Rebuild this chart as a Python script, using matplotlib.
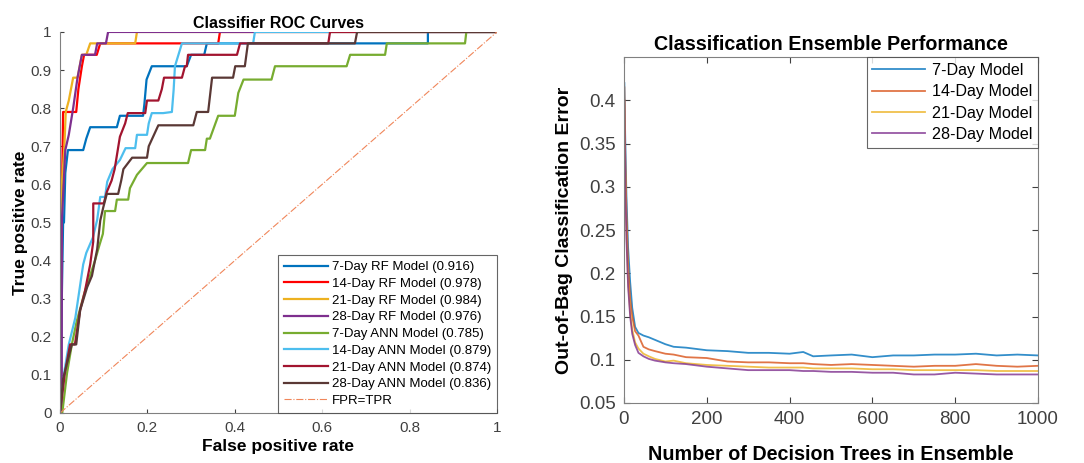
import matplotlib

matplotlib.use("Agg")
import matplotlib.pyplot as plt

plt.rcParams["font.family"] = ["Liberation Sans", "DejaVu Sans"]

# ---- left panel: ROC curves (fpr, tpr vertices) ----
roc_labels = [
    "7-Day RF Model (0.916)",
    "14-Day RF Model (0.978)",
    "21-Day RF Model (0.984)",
    "28-Day RF Model (0.976)",
    "7-Day ANN Model (0.785)",
    "14-Day ANN Model (0.879)",
    "21-Day ANN Model (0.874)",
    "28-Day ANN Model (0.836)",
]
roc_colors = ["#0072BD", "#FF0000", "#EDB120", "#7E2F8E",
              "#77AC30", "#4DBEEE", "#A2142F", "#5A3835"]

fpr_rf7 = [0, 0.004, 0.007, 0.009, 0.012, 0.018, 0.053, 0.06, 0.069, 0.13, 0.137,
           0.19, 0.193, 0.198, 0.21, 0.29, 0.30, 0.33, 0.336, 0.842, 0.842, 1]
tpr_rf7 = [0, 0.30, 0.50, 0.50, 0.63, 0.69, 0.69, 0.72, 0.75, 0.75, 0.78,
           0.78, 0.81, 0.875, 0.91, 0.91, 0.94, 0.94, 0.97, 0.97, 1, 1]
fpr_rf14 = [0, 0.003, 0.007, 0.037, 0.042, 0.046, 0.05, 0.055, 0.084, 0.092,
            0.362, 0.366, 1]
tpr_rf14 = [0, 0.45, 0.79, 0.79, 0.85, 0.88, 0.91, 0.94, 0.94, 0.97, 0.97, 1, 1]
fpr_rf21 = [0, 0.004, 0.01, 0.013, 0.02, 0.025, 0.03, 0.04, 0.045, 0.05, 0.06,
            0.069, 0.172, 0.176, 1]
tpr_rf21 = [0, 0.60, 0.70, 0.79, 0.82, 0.85, 0.88, 0.88, 0.91, 0.94, 0.94,
            0.97, 0.97, 1, 1]
fpr_rf28 = [0, 0.004, 0.004, 0.012, 0.02, 0.03, 0.04, 0.05, 0.08, 0.085, 0.105,
            0.11, 1]
tpr_rf28 = [0, 0.0, 0.50, 0.69, 0.73, 0.80, 0.88, 0.94, 0.94, 0.97, 0.97, 1, 1]
fpr_ann7 = [0, 0.005, 0.016, 0.027, 0.038, 0.057, 0.08, 0.09, 0.098, 0.103, 0.126,
            0.13, 0.156, 0.16, 0.176, 0.199, 0.293, 0.30, 0.332, 0.336, 0.343,
            0.362, 0.40, 0.408, 0.42, 0.484, 0.492, 0.656, 0.664, 0.744, 0.748,
            0.927, 0.93, 1]
tpr_ann7 = [0, 0.0, 0.105, 0.18, 0.24, 0.32, 0.40, 0.44, 0.47, 0.53, 0.53,
            0.56, 0.56, 0.59, 0.625, 0.656, 0.656, 0.69, 0.69, 0.72, 0.72,
            0.78, 0.78, 0.84, 0.875, 0.875, 0.91, 0.91, 0.94, 0.94, 0.97,
            0.97, 1, 1]
fpr_ann14 = [0, 0.01, 0.02, 0.035, 0.053, 0.06, 0.075, 0.085, 0.092, 0.103,
             0.108, 0.12, 0.137, 0.15, 0.172, 0.176, 0.199, 0.203, 0.21, 0.236,
             0.256, 0.26, 0.263, 0.279, 0.442, 0.446, 1]
tpr_ann14 = [0, 0.11, 0.18, 0.25, 0.39, 0.42, 0.46, 0.507, 0.567, 0.567,
             0.607, 0.64, 0.664, 0.695, 0.695, 0.73, 0.73, 0.76, 0.787, 0.787,
             0.79, 0.848, 0.91, 0.97, 0.97, 1, 1]
fpr_ann21 = [0, 0.011, 0.023, 0.034, 0.046, 0.057, 0.069, 0.076, 0.076, 0.1,
             0.107, 0.118, 0.125, 0.137, 0.149, 0.155, 0.195, 0.199, 0.225,
             0.233, 0.238, 0.279, 0.286, 0.29, 0.293, 0.405, 0.412, 0.614,
             0.618, 1]
tpr_ann21 = [0, 0.105, 0.18, 0.18, 0.27, 0.32, 0.39, 0.45, 0.55, 0.55,
             0.58, 0.61, 0.64, 0.725, 0.76, 0.787, 0.787, 0.82, 0.82,
             0.85, 0.88, 0.88, 0.91, 0.91, 0.94, 0.94, 0.97, 0.97,
             1, 1]
fpr_ann28 = [0, 0.007, 0.027, 0.037, 0.046, 0.062, 0.073, 0.085, 0.092, 0.099,
             0.107, 0.133, 0.14, 0.145, 0.165, 0.199, 0.203, 0.215, 0.225,
             0.305, 0.313, 0.339, 0.348, 0.396, 0.401, 0.423, 0.43, 0.675,
             0.68, 1]
tpr_ann28 = [0, 0.09, 0.18, 0.18, 0.27, 0.33, 0.36, 0.43, 0.505, 0.54,
             0.575, 0.575, 0.61, 0.64, 0.67, 0.67, 0.70, 0.73, 0.755,
             0.755, 0.79, 0.79, 0.88, 0.88, 0.91, 0.91, 0.97, 0.97,
             1, 1]

roc_fpr = [fpr_rf7, fpr_rf14, fpr_rf21, fpr_rf28, fpr_ann7, fpr_ann14, fpr_ann21, fpr_ann28]
roc_tpr = [tpr_rf7, tpr_rf14, tpr_rf21, tpr_rf28, tpr_ann7, tpr_ann14, tpr_ann21, tpr_ann28]

# ---- right panel: out-of-bag error vs number of trees ----
oob_labels = ["7-Day Model", "14-Day Model", "21-Day Model", "28-Day Model"]
oob_colors = ["#0072BD", "#D95319", "#EDB120", "#7E2F8E"]
n_trees = [1, 3, 6, 10, 15, 20, 27, 35, 47, 60, 75, 100, 120, 150, 200, 250, 300,
           350, 400, 433, 457, 500, 550, 600, 650, 700, 750, 800, 850, 900, 950, 1000]
oob_7 = [0.42, 0.36, 0.29, 0.23, 0.19, 0.16, 0.138, 0.131, 0.128, 0.126, 0.123,
         0.118, 0.115, 0.114, 0.111, 0.110, 0.108, 0.108, 0.107, 0.109, 0.104,
         0.105, 0.106, 0.103, 0.105, 0.105, 0.106, 0.106, 0.107, 0.105, 0.106, 0.105]
oob_14 = [0.415, 0.34, 0.27, 0.21, 0.17, 0.15, 0.133, 0.128, 0.115, 0.112, 0.110,
          0.107, 0.106, 0.103, 0.102, 0.098, 0.097, 0.097, 0.096, 0.096, 0.095,
          0.094, 0.095, 0.094, 0.093, 0.092, 0.093, 0.093, 0.095, 0.093, 0.092, 0.093]
oob_21 = [0.40, 0.32, 0.25, 0.19, 0.155, 0.135, 0.12, 0.113, 0.107, 0.104, 0.101,
          0.098, 0.099, 0.096, 0.094, 0.093, 0.092, 0.091, 0.091, 0.091, 0.090,
          0.090, 0.090, 0.089, 0.089, 0.088, 0.088, 0.088, 0.088, 0.087, 0.087, 0.087]
oob_28 = [0.40, 0.31, 0.24, 0.185, 0.15, 0.13, 0.117, 0.108, 0.104, 0.101, 0.099,
          0.097, 0.096, 0.095, 0.092, 0.090, 0.088, 0.088, 0.088, 0.087, 0.087,
          0.086, 0.086, 0.085, 0.085, 0.083, 0.083, 0.085, 0.084, 0.083, 0.083, 0.083]
oob_series = [oob_7, oob_14, oob_21, oob_28]

fig = plt.figure(figsize=(10.84, 4.63), dpi=100)

# left panel
ax1 = fig.add_axes([0.0554, 0.108, 0.403, 0.823])
for fpr, tpr, color, label in zip(roc_fpr, roc_tpr, roc_colors, roc_labels):
    ax1.plot(fpr, tpr, color=color, lw=1.6, label=label)
ax1.plot([0, 1], [0, 1], color="#F0865A", lw=0.8, ls="-.", label="FPR=TPR")
ax1.set_xlim(0, 1)
ax1.set_ylim(0, 1)
ax1.set_xticks([0, 0.2, 0.4, 0.6, 0.8, 1])
ax1.set_xticklabels(["0", "0.2", "0.4", "0.6", "0.8", "1"])
ax1.set_yticks([i / 10 for i in range(11)])
ax1.set_yticklabels(["0"] + [f"0.{i}" for i in range(1, 10)] + ["1"])
ax1.spines["top"].set_visible(False)
ax1.spines["right"].set_visible(False)
for s in ("left", "bottom"):
    ax1.spines[s].set_color("#808080")
ax1.tick_params(direction="in", length=3, labelsize=11, colors="#404040", pad=6)
ax1.set_title("Classifier ROC Curves", fontsize=11.5, fontweight="bold", pad=3)
ax1.set_xlabel("False positive rate", fontsize=12.5, fontweight="bold", labelpad=3)
ax1.set_ylabel("True positive rate", fontsize=12.5, fontweight="bold", labelpad=2)
leg1 = ax1.legend(loc="lower right", fontsize=9.5, handlelength=3.4, borderaxespad=0,
                  frameon=True, fancybox=False, labelspacing=0.34, handletextpad=0.25,
                  borderpad=0.45)
leg1.get_frame().set_edgecolor("#404040")
leg1.get_frame().set_linewidth(0.8)

# right panel
ax2 = fig.add_axes([0.5756, 0.1296, 0.382, 0.747])
for vals, color, label in zip(oob_series, oob_colors, oob_labels):
    ax2.plot(n_trees, vals, color=color, lw=1.3, alpha=0.8, label=label)
ax2.set_xlim(0, 1000)
ax2.set_ylim(0.05, 0.45)
ax2.set_xticks([0, 200, 400, 600, 800, 1000])
ax2.set_yticks([0.05, 0.1, 0.15, 0.2, 0.25, 0.3, 0.35, 0.4])
ax2.set_yticklabels(["0.05", "0.1", "0.15", "0.2", "0.25", "0.3", "0.35", "0.4"])
for s in ax2.spines.values():
    s.set_color("#808080")
ax2.tick_params(direction="in", length=4, labelsize=13.5, colors="#404040",
                top=True, right=True, pad=6)
ax2.set_title("Classification Ensemble Performance", fontsize=14.2, fontweight="bold", pad=5)
ax2.set_xlabel("Number of Decision Trees in Ensemble", fontsize=14.2, fontweight="bold",
               labelpad=12)
ax2.set_ylabel("Out-of-Bag Classification Error", fontsize=14, fontweight="bold",
               labelpad=4)
leg2 = ax2.legend(loc="upper right", fontsize=11.6, handlelength=3.3, borderaxespad=0,
                  frameon=True, fancybox=False, labelspacing=0.4, handletextpad=0.4,
                  borderpad=0.35)
leg2.get_frame().set_edgecolor("#404040")
leg2.get_frame().set_linewidth(0.8)

fig.savefig("out.png", dpi=100)
